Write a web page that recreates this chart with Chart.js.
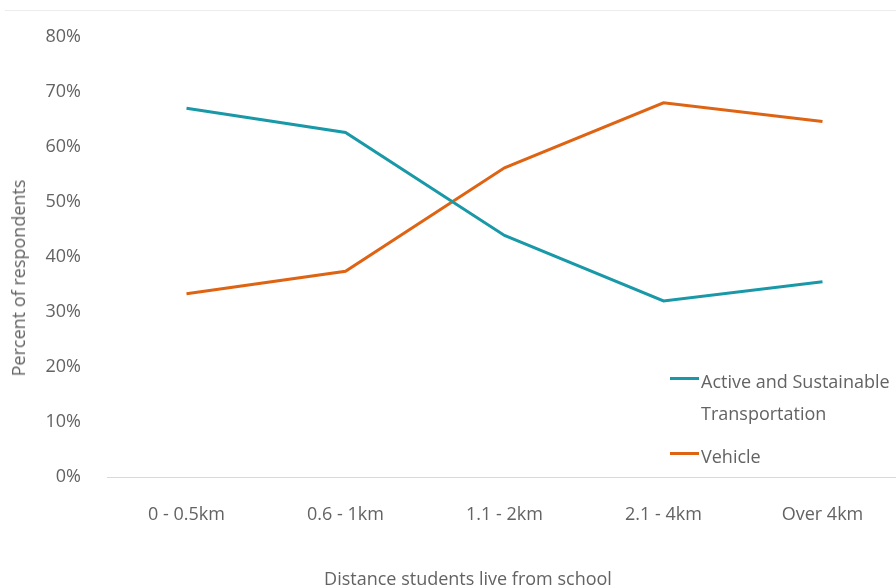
<!DOCTYPE html>
<html>
<head>
<meta charset="utf-8">
<script src="https://cdn.jsdelivr.net/npm/chart.js@4"></script>
<style>
  html, body { margin: 0; padding: 0; background: #fff; }
  #wrap { position: relative; width: 896px; height: 586px; overflow: hidden; font-family: "Open Sans", sans-serif; color: #636363; }
  #topLine { position: absolute; left: 5px; right: 0; top: 10px; height: 1px; background: #ececec; }
  #myChart { position: absolute; left: 0; top: 0; }
  #legend { position: absolute; left: 670px; top: 365px; font-size: 18px; }
  .item { display: flex; align-items: flex-start; margin-bottom: 11px; }
  .swatch { width: 29px; height: 3px; margin-top: 12px; margin-right: 2px; flex: none; }
  .txt { line-height: 32px; white-space: nowrap; }
  #xTitle { position: absolute; left: 268px; width: 400px; top: 566px; text-align: center; font-size: 18px; line-height: 24px; white-space: nowrap; }
  #yTitle { position: absolute; left: 18px; top: 278px; font-size: 18px; line-height: 24px; white-space: nowrap;
            transform: translate(-50%, -50%) rotate(-90deg); }
</style>
</head>
<body>
<div id="wrap">
  <div id="topLine"></div>
  <canvas id="myChart" width="906" height="586"></canvas>
  <div id="legend"></div>
  <div id="xTitle"></div>
  <div id="yTitle"></div>
</div>
<script>
const categories = ['0 - 0.5km', '0.6 - 1km', '1.1 - 2km', '2.1 - 4km', 'Over 4km'];
const activeValues = [67.0, 62.6, 43.9, 32.0, 35.5];
const vehicleValues = [33.3, 37.4, 56.2, 68.0, 64.6];
const seriesLabels = ['Active and Sustainable Transportation', 'Vehicle'];
const legendLines = [['Active and Sustainable', 'Transportation'], ['Vehicle']];
const seriesColors = ['#1999a7', '#de6413'];
const yTicks = [0, 10, 20, 30, 40, 50, 60, 70, 80];
const xTitleText = 'Distance students live from school';
const yTitleText = 'Percent of respondents';

const textColor = '#636363';

const ctx = document.getElementById('myChart');

const chart = new Chart(ctx, {
    type: 'line',
    data: {
        labels: categories,
        datasets: [{
            label: seriesLabels[0],
            data: activeValues,
            borderColor: seriesColors[0],
            backgroundColor: seriesColors[0],
            borderWidth: 3,
            pointRadius: 0,
            tension: 0
        }, {
            label: seriesLabels[1],
            data: vehicleValues,
            borderColor: seriesColors[1],
            backgroundColor: seriesColors[1],
            borderWidth: 3,
            pointRadius: 0,
            tension: 0
        }]
    },
    options: {
        responsive: false,
        animation: false,
        layout: { padding: { top: 35, right: 4, bottom: 0, left: 0 } },
        plugins: {
            legend: { display: false },
            tooltip: { enabled: false }
        },
        scales: {
            x: {
                offset: true,
                grid: { display: false, drawTicks: false },
                border: { display: true, color: '#d9d9d9', width: 1 },
                ticks: {
                    color: textColor,
                    font: { family: 'Open Sans', size: 18 },
                    padding: 27,
                    maxRotation: 0
                },
                afterFit: (scale) => { scale.height = 109; }
            },
            y: {
                min: 0,
                max: 80,
                afterBuildTicks: (scale) => {
                    scale.ticks = yTicks.map(v => ({ value: v }));
                },
                grid: { display: false, drawTicks: false },
                border: { display: false },
                ticks: {
                    color: textColor,
                    font: { family: 'Open Sans', size: 18 },
                    padding: 26,
                    callback: (v) => v + '%'
                },
                afterFit: (scale) => { scale.width = 107; }
            }
        }
    }
});

document.getElementById('xTitle').textContent = xTitleText;
document.getElementById('yTitle').textContent = yTitleText;

const legendEl = document.getElementById('legend');
legendLines.forEach((lines, i) => {
    const item = document.createElement('div');
    item.className = 'item';
    const sw = document.createElement('div');
    sw.className = 'swatch';
    sw.style.background = chart.data.datasets[i].borderColor;
    const txt = document.createElement('div');
    txt.className = 'txt';
    txt.innerHTML = lines.join('<br>');
    item.appendChild(sw);
    item.appendChild(txt);
    legendEl.appendChild(item);
});
</script>
</body>
</html>
